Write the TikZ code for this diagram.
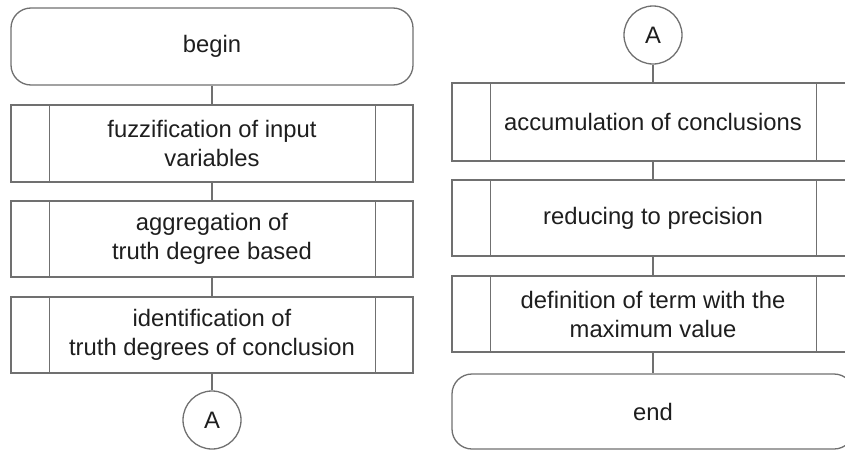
\documentclass[tikz,border=0pt]{standalone}
\usepackage{fontspec}
\setmainfont{Liberation Sans}
\definecolor{linec}{RGB}{112,112,112}
\definecolor{textc}{RGB}{30,30,30}
\tikzset{
  base/.style={draw=linec, line width=1.3pt, text=textc, align=center,
    font=\fontsize{23.8}{29}\selectfont, inner sep=0pt},
  term/.style={base, rectangle, rounded corners=20pt, minimum width=402pt},
  proc/.style={base, rectangle, minimum width=402pt},
  conn/.style={base, circle, minimum size=58pt},
  link/.style={draw=linec, line width=1.3pt},
}
\newcommand{\sidebars}[1]{%
  \draw[link] ([xshift=39pt]#1.north west) -- ([xshift=39pt]#1.south west);
  \draw[link] ([xshift=-38pt]#1.north east) -- ([xshift=-38pt]#1.south east);}
\begin{document}
\begin{tikzpicture}
\clip (0,0) rectangle (845pt,-450pt);
% left column (centre x = 212)
\node[term, minimum height=77pt] (begin) at (212pt,-46.5pt) {begin};
\node[proc, minimum height=77pt] (fuzz) at (212pt,-143.5pt) {fuzzification of input\\variables};
\node[proc, minimum height=76pt] (aggr) at (212pt,-239pt) {aggregation of\\truth degree based};
\node[proc, minimum height=76pt] (ident) at (212pt,-335pt) {identification of\\truth degrees of conclusion};
\node[conn] (a1) at (212pt,-420pt) {A};
% right column (centre x = 653)
\node[conn] (a2) at (653pt,-35pt) {A};
\node[proc, minimum height=78pt] (accu) at (653pt,-122pt) {accumulation of conclusions};
\node[proc, minimum height=76pt] (redu) at (653pt,-218pt) {reducing to precision};
\node[proc, minimum height=76pt] (defi) at (653pt,-314pt) {definition of term with the\\maximum value};
\node[term, minimum height=75pt] (end) at (653pt,-411.5pt) {end};
\sidebars{fuzz}\sidebars{aggr}\sidebars{ident}
\sidebars{accu}\sidebars{redu}\sidebars{defi}
\draw[link] (begin) -- (fuzz);
\draw[link] (fuzz) -- (aggr);
\draw[link] (aggr) -- (ident);
\draw[link] (ident) -- (a1);
\draw[link] (a2) -- (accu);
\draw[link] (accu) -- (redu);
\draw[link] (redu) -- (defi);
\draw[link] (defi) -- (end);
\end{tikzpicture}
\end{document}
